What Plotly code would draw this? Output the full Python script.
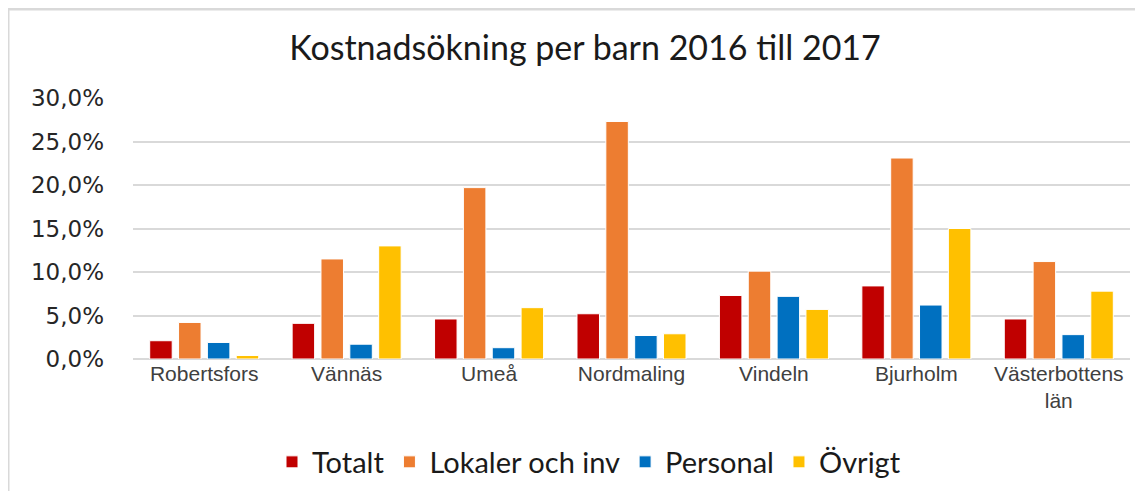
import plotly.graph_objects as go

categories = ["Robertsfors", "Vännäs", "Umeå", "Nordmaling", "Vindeln", "Bjurholm", "Västerbottens<br>län"]
totalt = [2.1, 4.1, 4.6, 5.2, 7.3, 8.4, 4.6]
lokaler = [4.2, 11.5, 19.7, 27.3, 10.1, 23.1, 11.2]
personal = [1.9, 1.7, 1.3, 2.7, 7.2, 6.2, 2.8]
ovrigt = [0.4, 13.0, 5.9, 2.9, 5.7, 15.0, 7.8]

series = [
    ("Totalt", totalt, "#C00000"),
    ("Lokaler och inv", lokaler, "#ED7D31"),
    ("Personal", personal, "#0070C0"),
    ("Övrigt", ovrigt, "#FFC000"),
]

fig = go.Figure()
for name, vals, col in series:
    fig.add_trace(go.Bar(
        x=categories, y=vals, name=name,
        marker=dict(color=col, line=dict(color="white", width=1)),
    ))

# page body adds an 8px offset; target screen pixels are converted to figure pixels
OFF = 8
W, H = 1143, 491
plot_left, plot_right, plot_top, plot_bottom = 133 - OFF, 1130 - OFF, 98 - OFF, 359 - OFF
L, R, T, B = plot_left, W - plot_right, plot_top, H - plot_bottom
pw = W - L - R
ph = H - T - B

def px_x(x):
    return (x - OFF - L) / pw

def px_y(y):
    return (H - B - (y - OFF)) / ph

fig.update_layout(
    width=W, height=H,
    margin=dict(l=L, r=R, t=T, b=B, autoexpand=False),
    paper_bgcolor="white", plot_bgcolor="white",
    barmode="group", bargap=0.19, bargroupgap=0.22,
    separators=", ",
    title=dict(text="Kostnadsökning per barn 2016 till 2017",
               x=px_x(585), xanchor="center", xref="paper",
               y=1 - (48 - OFF) / H, yanchor="middle",
               font=dict(family="Lato, Open Sans, sans-serif", size=34, color="#1a1a1a")),
    xaxis=dict(showgrid=False, showline=False, ticks="", automargin=False,
               tickfont=dict(family="Liberation Sans, Arial, sans-serif", size=21, color="#404040")),
    yaxis=dict(range=[0, 30], dtick=5, tickformat=".1f", ticksuffix="%", automargin=False,
               showgrid=True, gridcolor="#D9D9D9", gridwidth=2,
               zeroline=True, zerolinecolor="#D9D9D9", zerolinewidth=2,
               showline=False, ticks="", ticklabelstandoff=28,
               tickfont=dict(family="DejaVu Sans, sans-serif", size=23, color="#262626")),
    legend=dict(orientation="h", x=px_x(589), xanchor="center", y=px_y(462), yanchor="middle",
                font=dict(family="Lato, Open Sans, sans-serif", size=29, color="#1a1a1a"),
                itemwidth=30, traceorder="normal"),
    showlegend=True,
    shapes=[
        dict(type="line", xref="paper", yref="paper", x0=px_x(8), x1=px_x(1160), y0=px_y(9), y1=px_y(9),
             line=dict(color="#D9D9D9", width=3)),
        dict(type="line", xref="paper", yref="paper", x0=px_x(8), x1=px_x(8), y0=px_y(9), y1=px_y(510),
             line=dict(color="#D9D9D9", width=3)),
    ],
)

fig.write_html("out.html")
